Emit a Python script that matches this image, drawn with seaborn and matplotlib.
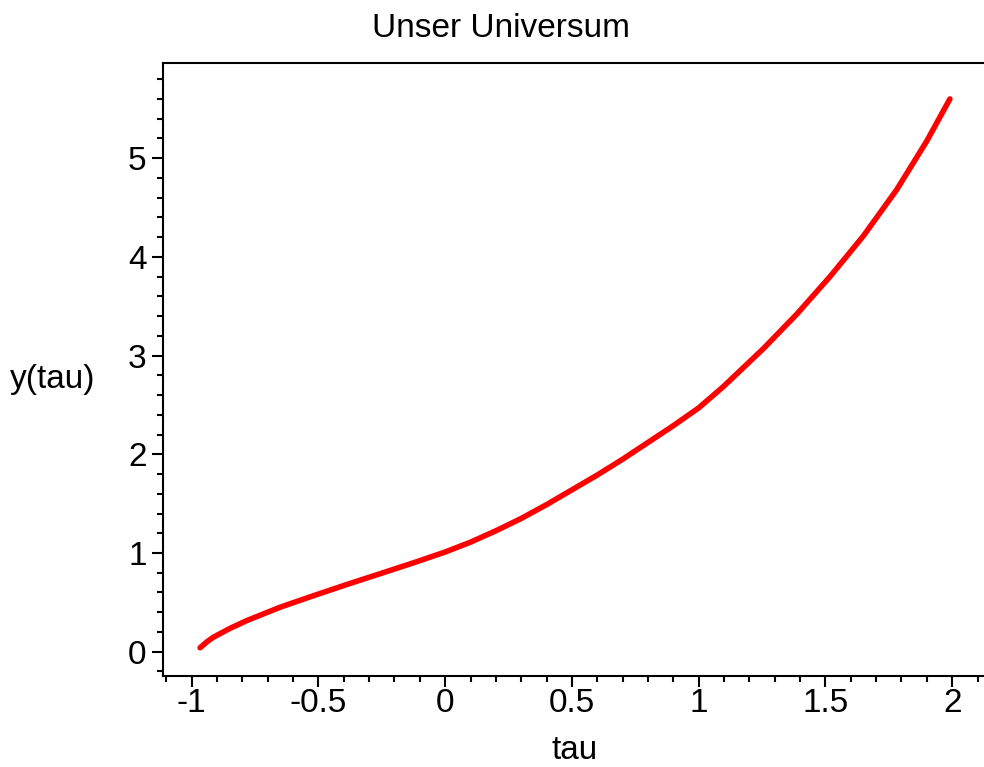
import numpy as np
import pandas as pd
import matplotlib
matplotlib.use("Agg")
import matplotlib.pyplot as plt
from matplotlib.ticker import MultipleLocator, FixedLocator
import seaborn as sns

# Scale factor of our universe over time
tau = [-0.967, -0.94, -0.915, -0.85, -0.783, -0.652, -0.52, -0.389, -0.257,
       -0.126, 0.0, 0.1, 0.2, 0.3, 0.4, 0.5, 0.6, 0.7, 0.8, 0.9, 1.0,
       1.097, 1.255, 1.387, 1.518, 1.649, 1.781, 1.899, 1.991]
y_tau = [0.04, 0.10, 0.146, 0.235, 0.315, 0.45, 0.567, 0.68, 0.79,
         0.9, 1.01, 1.11, 1.225, 1.35, 1.49, 1.64, 1.79, 1.95, 2.12, 2.29,
         2.47, 2.685, 3.07, 3.42, 3.80, 4.21, 4.68, 5.17, 5.60]

x_ticks = [-1, -0.5, 0, 0.5, 1, 1.5, 2]
x_tick_labels = ["-1", "-0.5", "0", "0.5", "1", "1.5", "2"]
y_ticks = [0, 1, 2, 3, 4, 5]
y_tick_labels = ["0", "1", "2", "3", "4", "5"]

title = "Unser Universum"
x_label = "tau"
y_label = "y(tau)"

sns.set_theme(style="white")
plt.rcParams["font.family"] = ["Liberation Sans", "DejaVu Sans"]
plt.rcParams["axes.unicode_minus"] = False

df = pd.DataFrame({"tau": tau, "y": y_tau})

W, H = 984, 767
fig = plt.figure(figsize=(W / 100, H / 100), dpi=100)
fig.patch.set_facecolor("white")

x_lo, x_hi = -1.112, 2.2
px_per_unit = 253.5
left_px, bottom_px, top_px = 163.3, 676.0, 63.3
ax = fig.add_axes([left_px / W, (H - bottom_px) / H,
                   (x_hi - x_lo) * px_per_unit / W, (bottom_px - top_px) / H])
ax.set_facecolor("white")

sns.lineplot(data=df, x="tau", y="y", ax=ax, color="#ff0000", linewidth=4.0,
             sort=False, estimator=None)

ax.set_xlim(x_lo, x_hi)
ax.set_ylim(-0.246, 5.961)

ax.xaxis.set_major_locator(FixedLocator(x_ticks))
ax.set_xticklabels(x_tick_labels)
ax.xaxis.set_minor_locator(MultipleLocator(0.1))
ax.yaxis.set_major_locator(FixedLocator(y_ticks))
ax.set_yticklabels(y_tick_labels)
ax.yaxis.set_minor_locator(MultipleLocator(0.2))

ax.tick_params(axis="both", which="major", direction="out", length=8,
               width=1.5, color="black", labelsize=24, labelcolor="black")
ax.tick_params(axis="both", which="minor", direction="out", length=4,
               width=1.5, color="black")
ax.tick_params(axis="x", which="major", pad=1)
ax.tick_params(axis="y", which="major", pad=4)
ax.tick_params(bottom=True, left=True, which="both")

for side in ["left", "bottom", "top"]:
    ax.spines[side].set_visible(True)
    ax.spines[side].set_color("black")
    ax.spines[side].set_linewidth(1.5)
ax.spines["right"].set_visible(False)

ax.set_xlabel("")
ax.set_ylabel("")
ax.grid(False)

fig.text(501 / W, 1 - 37 / H, title, ha="center", va="baseline",
         fontsize=24, color="black")
fig.text(575 / W, 1 - 759 / H, x_label, ha="center", va="baseline",
         fontsize=24, color="black")
fig.text(10 / W, 1 - 388 / H, y_label, ha="left", va="baseline",
         fontsize=24, color="black")

fig.savefig("out.png", dpi=100, facecolor="white")
